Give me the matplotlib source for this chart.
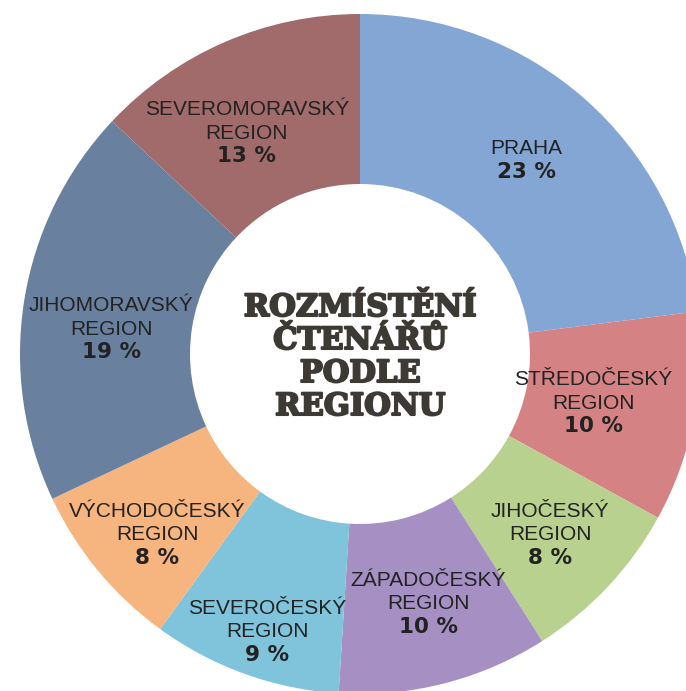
import numpy as np
import matplotlib.pyplot as plt
import matplotlib.patheffects as pe

regions = ["PRAHA", "STŘEDOČESKÝ", "JIHOČESKÝ", "ZÁPADOČESKÝ", "SEVEROČESKÝ",
           "VÝCHODOČESKÝ", "JIHOMORAVSKÝ", "SEVEROMORAVSKÝ"]
shares = [23, 10, 8, 10, 9, 8, 19, 13]
colors = ["#84A6D5", "#D48284", "#B9D18E", "#A58FC3", "#80C4DC",
          "#F6B47E", "#6A809F", "#A06B6A"]
title_lines = ["ROZMÍSTĚNÍ", "ČTENÁŘŮ", "PODLE", "REGIONU"]

# label distance from the centre for each slice (px) and small angle nudges
label_r = [257, 238, 261, 257, 291, 270, 250, 250]
label_da = [1, -0.6, 0, 1, 1.2, 1.8, 2.8, 3.5]

W, H = 686, 691
cx, cy = 360, H - 354
R, ring = 340, 170

fig = plt.figure(figsize=(W / 100, H / 100), dpi=100)
ax = fig.add_axes([0, 0, 1, 1])
ax.pie(shares, colors=colors, startangle=90, counterclock=False,
       center=(cx, cy), radius=R,
       wedgeprops=dict(width=ring, linewidth=0))
ax.set_xlim(0, W)
ax.set_ylim(0, H)
ax.set_aspect("equal")
ax.axis("off")

total = sum(shares)
start = 90.0
for name, val, r, da in zip(regions, shares, label_r, label_da):
    sweep = 360.0 * val / total
    mid = np.deg2rad(start - sweep / 2 + da)
    start -= sweep
    x = cx + r * np.cos(mid)
    y = cy + r * np.sin(mid)
    lines = [name] if name == "PRAHA" else [name, "REGION"]
    n = len(lines) + 1
    for i, txt in enumerate(lines + [f"{val} %"]):
        base = y - 7.5 + ((n - 1) / 2 - i) * 23.5
        if i == n - 1:
            ax.text(x, base, txt, ha="center", va="baseline", fontsize=15.5,
                    color="#222222", family="DejaVu Sans", fontweight="bold")
        else:
            ax.text(x, base, txt, ha="center", va="baseline", fontsize=15,
                    color="#222222", family="Liberation Sans")

for i, txt in enumerate(title_lines):
    ax.text(cx, H - 316 - i * 33, txt, ha="center", va="baseline",
            fontsize=22, color="#3D3935", family="DejaVu Serif",
            fontweight="heavy",
            path_effects=[pe.withStroke(linewidth=1.5, foreground="#3D3935")])

fig.savefig("out.png", dpi=100)
